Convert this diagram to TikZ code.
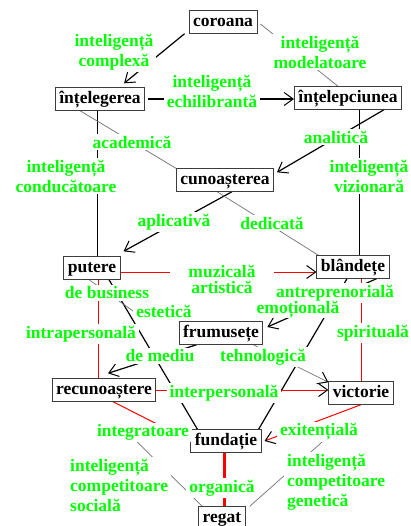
\documentclass[tikz,border=0pt]{standalone}
\usepackage{fontspec}
\setmainfont{Liberation Serif}
\usetikzlibrary{arrows.meta,calc}
\definecolor{lgreen}{RGB}{0,255,0}
\definecolor{boxgray}{RGB}{60,60,60}
\pgfdeclarelayer{bg}
\pgfsetlayers{bg,main}
\begin{document}
\begin{tikzpicture}[x=1pt,y=-1pt,
  box/.style={draw=boxgray, line width=0.9pt, fill=white,
    font=\bfseries\fontsize{17.5pt}{20pt}\selectfont,
    inner xsep=4pt, inner ysep=3.5pt, text height=12pt, text depth=3.5pt},
  lab/.style={fill=white, text=lgreen, inner xsep=3pt, inner ysep=1.5pt, align=center,
    font=\bfseries\fontsize{17.5pt}{20pt}\selectfont},
  blk/.style={black, line width=1.2pt},
  thinblk/.style={black, line width=0.8pt},
  gry/.style={black!55, line width=0.7pt},
  rd/.style={red, line width=1pt},
  tip/.style={-{Straight Barb[length=9pt,width=13pt,line width=1pt,color=black]}},
]
\useasboundingbox (0,0) rectangle (411,526);

% boxes
\node[box] (coroana) at (223,22) {coroana};
\node[box] (intelegerea) at (100,99) {înțelegerea};
\node[box] (intelepciunea) at (348,98) {înțelepciunea};
\node[box] (cunoasterea) at (225,180) {cunoașterea};
\node[box] (putere) at (92,268) {putere};
\node[box] (blandete) at (353,267) {blândețe};
\node[box] (frumusete) at (221,333) {frumusețe};
\node[box] (recunoastere) at (104,390) {recunoaștere};
\node[box] (victorie) at (361,393) {victorie};
\node[box] (fundatie) at (226,441) {fundație};
\node[box] (regat) at (222,518) {regat};

% labels
\node[lab] (lcomplexa) at (114,52) {inteligență\\complexă};
\node[lab] (lmodel) at (320,52) {inteligență\\modelatoare};
\node[lab] (lechil) at (212,91) {inteligență\\echilibrantă};
\node[lab] (lacad) at (132,142) {academică};
\node[lab] (lanal) at (336,137) {analitică};
\node[lab] (lcond) at (66,176) {inteligență\\conducătoare};
\node[lab] (lviz) at (369,176) {inteligență\\vizionară};
\node[lab] (laplic) at (174,222) {aplicativă};
\node[lab] (ldedic) at (272,223) {dedicată};
\node[lab, inner xsep=18pt, inner ysep=0pt, font=\bfseries\fontsize{17.5pt}{16pt}\selectfont] (lmuz) at (222,279) {muzicală\\artistică};
\node[lab] (lbus) at (107,293) {de business};
\node[lab] (lantr) at (335,293) {antreprenorială};
\node[lab] (lestet) at (164,311) {estetică};
\node[lab, inner ysep=0pt] (lemot) at (298,310) {emoțională};
\node[lab] (lintra) at (81,334) {intrapersonală};
\node[lab] (lspir) at (373,333) {spirituală};
\node[lab] (lmediu) at (160,356) {de mediu};
\node[lab] (ltehno) at (263,357) {tehnologică};
\node[lab] (linter) at (224,393) {interpersonală};
\node[lab] (lintegr) at (143,432) {integratoare};
\node[lab] (lexist) at (319,432) {exitențială};
\node[lab, align=left, anchor=west] (lsocial) at (67,485) {inteligență\\competitoare\\socială};
\node[lab] (lorg) at (222,488) {organică};
\node[lab, align=left, anchor=west] (lgenet) at (284,482) {inteligență\\competitoare\\genetică};

\begin{pgfonlayer}{bg}
\fill[white] (0,0) rectangle (411,526);
\draw[blk,tip] ([xshift=-4pt]coroana.south west) -- ([xshift=-21pt,yshift=4pt]intelegerea.north east);
\draw[gry] ([xshift=3pt,yshift=-2pt]coroana.east) -- ([xshift=-10pt]intelepciunea.north);
\draw[blk,tip,shorten <=3pt] (intelegerea.east) -- (intelegerea.east -| intelepciunea.west);
\draw[blk,tip] ([xshift=-18pt]intelepciunea.south east) -- ([xshift=3pt,yshift=-4pt]cunoasterea.north east);
\draw[thinblk] ([xshift=-3pt]intelegerea.south) -- ([xshift=-3pt]intelegerea.south |- putere.north);
\draw[gry] ([xshift=-20pt]intelegerea.south) -- (cunoasterea.north west);
\draw[blk,tip] ([xshift=7pt]cunoasterea.south) -- ([xshift=3pt,yshift=5pt]putere.north east);
\draw[gry] ([xshift=-8pt]cunoasterea.south) -- ([xshift=2pt]blandete.north west);
\draw[thinblk] ([xshift=11pt]intelepciunea.south) -- ([xshift=11pt]intelepciunea.south |- blandete.north);
\draw[rd,tip] ([yshift=-4pt]putere.east) -- ([yshift=-4pt]putere.east -| blandete.west);
\draw[rd] ([xshift=6pt]putere.south) -- ([xshift=6pt]putere.south |- recunoastere.north);
\draw[blk] ([xshift=17pt]putere.south) -- ([xshift=7pt]fundatie.north west);
\draw[gry] ([xshift=-3pt]putere.south) -- (lestet.west);
\draw[blk] ([xshift=-6pt]blandete.south) -- ([xshift=-3pt]fundatie.north east);
\draw[blk,tip] ([xshift=-13pt]blandete.south east) -- ([xshift=4pt,yshift=6pt]frumusete.east);
\draw[rd] ([xshift=8pt]blandete.south) -- ([xshift=8pt]blandete.south |- victorie.north);
\draw[blk,tip] ([xshift=18pt]frumusete.south west) -- ([xshift=4pt,yshift=5pt]recunoastere.north);
\draw[gry,tip] ([xshift=-10pt]frumusete.south east) -- ([yshift=-1pt]victorie.north west);
\draw[rd,tip] (recunoastere.east) -- (recunoastere.east -| victorie.west);
\draw[rd] ([xshift=9pt]recunoastere.south) -- (fundatie.west);
\draw[rd,tip] (victorie.south) -- ([xshift=3pt]fundatie.east);
\draw[red,line width=3pt] ([xshift=-2pt]fundatie.south) -- ([xshift=-2pt]fundatie.south |- regat.north);
\draw[gry] ([xshift=-6pt]lintegr.south) -- ([xshift=4pt]regat.north west);
\draw[gry] ([xshift=3pt]lexist.south) -- ([xshift=4pt]regat.north east);
\end{pgfonlayer}
\end{tikzpicture}
\end{document}
